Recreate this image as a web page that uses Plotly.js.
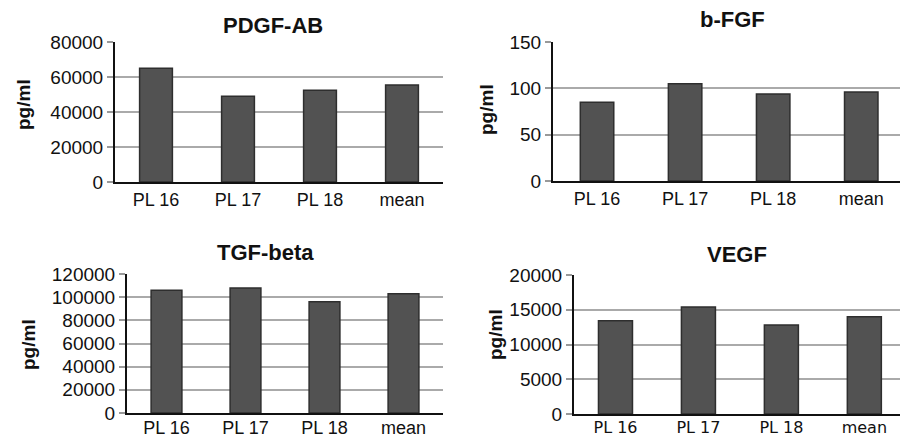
<!DOCTYPE html>
<html>
<head>
<meta charset="utf-8">
<script src="https://cdn.plot.ly/plotly-3.0.1.min.js"></script>
<style>html,body{margin:0;padding:0;background:#fff;}#chart{width:900px;height:439px;}</style>
</head>
<body>
<div id="chart"></div>
<script>
const categories = ['PL 16', 'PL 17', 'PL 18', 'mean'];
const pdgfAB = [65000, 49000, 52500, 55500];
const bFGF = [85, 105, 94, 96];
const tgfBeta = [106000, 108000, 96000, 103000];
const vegf = [13400, 15400, 12800, 14000];
const panelTitles = ['PDGF-AB', 'b-FGF', 'TGF-beta', 'VEGF'];
const yLabel = 'pg/ml';

const W = 900, H = 439;
const FONT = 'Liberation Sans, Arial, sans-serif';
const barFill = '#525252';
const barLine = '#2e2e2e';

function bar(y, xa, ya, width) {
  return {type: 'bar', x: categories, y: y, xaxis: xa, yaxis: ya, width: width,
    marker: {color: barFill, line: {color: barLine, width: 1.5}}, hoverinfo: 'skip'};
}
const data = [
  bar(pdgfAB, 'x', 'y', 0.4),
  bar(bFGF, 'x2', 'y2', 0.38),
  bar(tgfBeta, 'x3', 'y3', 0.39),
  bar(vegf, 'x4', 'y4', 0.41)
];

function px(a, b) { return [a / W, b / W]; }
function py(top, bottom) { return [1 - bottom / H, 1 - top / H]; }

function xaxis(dom, anchor, range, fontFam, fsize, standoff) {
  return {domain: dom, anchor: anchor, type: 'category', range: range,
    showline: true, linecolor: '#111', linewidth: 2, ticks: '', showgrid: false,
    ticklabelstandoff: standoff || 0,
    tickfont: {family: fontFam || FONT, size: fsize || 18, color: '#111'}, fixedrange: true};
}
function yaxis(dom, anchor, range, dtick) {
  return {domain: dom, anchor: anchor, range: range, dtick: dtick, tick0: 0, tickformat: 'd',
    showline: true, linecolor: '#111', linewidth: 2,
    ticks: 'outside', ticklen: 6, tickcolor: '#999', tickwidth: 2,
    showgrid: true, gridcolor: '#aaaaaa', gridwidth: 2, zeroline: false,
    tickfont: {family: FONT, size: 19, color: '#111'}, fixedrange: true};
}

const layout = {
  width: W, height: H,
  margin: {l: 0, r: 0, t: 0, b: 0},
  paper_bgcolor: '#fff', plot_bgcolor: '#fff',
  showlegend: false,
  xaxis: xaxis(px(115, 443), 'y', [-0.5, 3.5]),
  yaxis: yaxis(py(42, 182), 'x', [0, 80000], 20000),
  xaxis2: xaxis(px(553, 900), 'y2', [-0.5, 3.44]),
  yaxis2: yaxis(py(42, 181), 'x2', [0, 150], 50),
  xaxis3: xaxis(px(127, 443), 'y3', [-0.5, 3.5], null, 18, -3),
  yaxis3: yaxis(py(274, 413), 'x3', [0, 120000], 20000),
  xaxis4: xaxis(px(574, 900), 'y4', [-0.5, 3.43], 'DejaVu Sans, Verdana, sans-serif', 16, -2),
  yaxis4: yaxis(py(275, 414), 'x4', [0, 20000], 5000),
  annotations: []
};

const titlePos = [[273, 25], [732, 20], [265, 252], [737, 254]];
panelTitles.forEach((t, i) => {
  layout.annotations.push({text: '<b>' + t + '</b>', xref: 'paper', yref: 'paper',
    x: titlePos[i][0] / W, y: 1 - titlePos[i][1] / H, xanchor: 'center', yanchor: 'middle',
    showarrow: false, font: {family: FONT, size: 22, color: '#111'}});
});
const ylabPos = [[24, 105], [487, 110], [28, 345], [495, 335]];
ylabPos.forEach(p => {
  layout.annotations.push({text: '<b>' + yLabel + '</b>', xref: 'paper', yref: 'paper',
    x: p[0] / W, y: 1 - p[1] / H, xanchor: 'center', yanchor: 'middle', textangle: -90,
    showarrow: false, font: {family: FONT, size: 19, color: '#111'}});
});

Plotly.newPlot('chart', data, layout, {displayModeBar: false, staticPlot: true});
</script>
</body>
</html>
